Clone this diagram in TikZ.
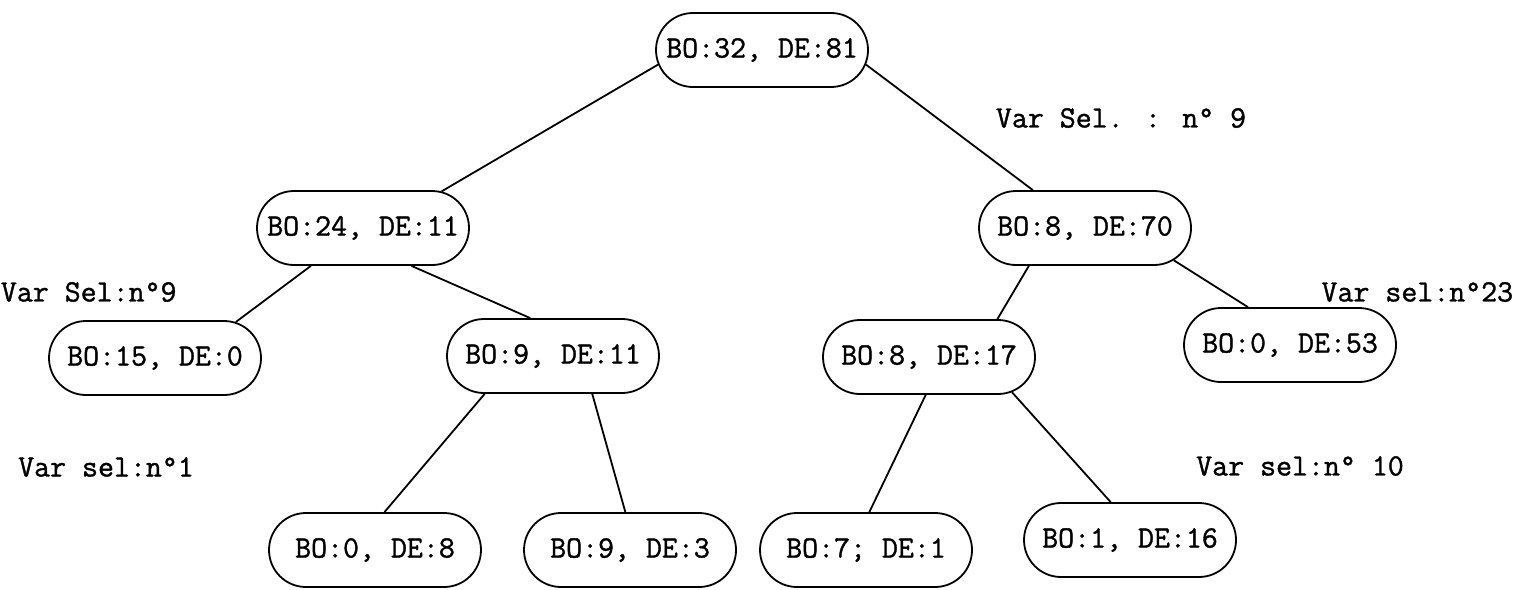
\documentclass[tikz,border=0pt]{standalone}
\usepackage{fontspec}
\usepackage{tikz}
\usetikzlibrary{shapes.misc}
\newfontfamily\typewriter{Latin Modern Mono}[FakeBold=1.2]

\begin{document}
\begin{tikzpicture}[x=0.5pt,y=-0.5pt,line width=0.9pt,font=\fontsize{15.5}{18}\typewriter]
\tikzstyle{every leaf}=[draw,rounded rectangle,minimum width=110pt,minimum height=37pt,inner sep=2pt]
\tikzstyle{varsel}=[inner sep=0pt]
\useasboundingbox (0,0) rectangle (1518,589);

\node[every leaf] (R)   at (762,50)   {BO:32, DE:81};
\node[every leaf] (L)   at (363,228)  {BO:24, DE:11};
\node[every leaf] (D)   at (1085,228) {BO:8, DE:70};
\node[every leaf] (LL)  at (155,358)  {BO:15, DE:0};
\node[every leaf] (LD)  at (553,356)  {BO:9, DE:11};
\node[every leaf] (DL)  at (929,357)  {BO:8, DE:17};
\node[every leaf] (DD)  at (1290,345) {BO:0, DE:53};
\node[every leaf] (LDL) at (375,550)  {BO:0, DE:8};
\node[every leaf] (LDD) at (630,550)  {BO:9, DE:3};
\node[every leaf] (DLL) at (866,550)  {BO:7; DE:1};
\node[every leaf] (DLD) at (1130,540) {BO:1, DE:16};

\node[varsel]             (s1) at (1121,118) {Var Sel. : n° 9};
\node[varsel,anchor=west] (s2) at (0,292)    {Var Sel:n°9};
\node[varsel]             (s3) at (106,467)  {Var sel:n°1};
\node[varsel,anchor=east] (s4) at (1514,292) {Var sel:n°23};
\node[varsel]             (s5) at (1300,466) {Var sel:n° 10};

\path
(R.188)  edge (L.25)
(R.352)  edge (D.144)
(L.216)  edge (LL.24)
(L.322)  edge (LD.121)
(D.214)  edge (DL.29)
(D.340)  edge (DD.138)
(LD.209) edge (LDL.76)
(LD.316) edge (LDD.97)
(DL.265) edge (DLL.85)
(DL.337) edge (DLD.117);
\end{tikzpicture}
\end{document}
